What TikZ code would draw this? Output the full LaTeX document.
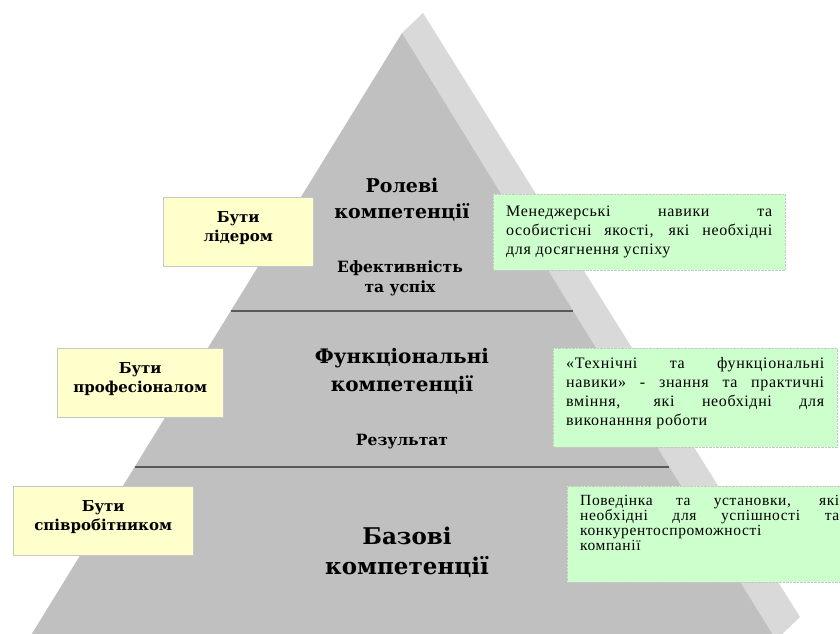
\documentclass[tikz,border=0pt]{standalone}
\usepackage{fontspec}
\setmainfont{Liberation Serif}
\newfontfamily\notefont[LetterSpace=4]{Liberation Serif}
\newfontfamily\labelfont{DejaVu Serif}
\usetikzlibrary{positioning}
\definecolor{pyrfront}{HTML}{C0C0C0}
\definecolor{pyrside}{HTML}{D9D9D9}
\definecolor{roleyellow}{HTML}{FFFFCC}
\definecolor{notegreen}{HTML}{CCFFCC}

\begin{document}
\begin{tikzpicture}[x=1pt,y=-1pt,
  rolebox/.style={draw=black!22,fill=roleyellow,anchor=north west,align=center,
    font=\labelfont\bfseries\fontsize{15}{19}\selectfont,text depth=10pt,inner sep=0pt},
  notebox/.style={draw=black!22,densely dotted,fill=notegreen,anchor=north west,align=justify,
    font=\notefont\fontsize{16}{19}\selectfont,inner xsep=13pt,inner ysep=4pt},
  title/.style={align=center,font=\labelfont\bfseries\fontsize{19}{26}\selectfont},
  subtitle/.style={align=center,font=\labelfont\bfseries\fontsize{15.5}{20}\selectfont},
  divider/.style={line width=1.8pt,black!65}]
  \clip (0,0) rectangle (840,634);
  % pyramid with its lit side
  \fill[pyrside] (402,33) -- (423,13) -- (800,617) -- (776,640) -- cycle;
  \fill[pyrfront] (402,33) -- (776,640) -- (28,640) -- cycle;
  \draw[divider] (231,311) -- (573,311);
  \draw[divider] (135,467) -- (669,467);
  % levels
  \node[title] (role) at (402,200) {Ролеві\\компетенції};
  \node[subtitle] (roleres) at (400,278) {Ефективність\\та успіх};
  \node[title,font=\labelfont\bfseries\fontsize{20}{28}\selectfont] (func) at (402,371) {Функціональні\\компетенції};
  \node[subtitle] (funcres) at (402,442) {Результат};
  \node[title,font=\labelfont\bfseries\fontsize{23}{30}\selectfont] (base) at (407,552) {Базові\\компетенції};
  % who you are
  \node[rolebox,minimum width=150pt,minimum height=69pt] (lead) at (163,197) {Бути\\лідером};
  \node[rolebox,minimum width=166pt,minimum height=69pt] (pro) at (57,348) {Бути\\професіоналом};
  \node[rolebox,minimum width=180pt,minimum height=69pt] (emp) at (13,486) {Бути\\співробітником};
  % what it takes
  \node[notebox,text width=266pt,minimum height=76pt] (noterole) at (493,194)
    {Менеджерські навики та\linebreak особистісні якості, які необхідні\linebreak для досягнення успіху};
  \node[notebox,text width=258pt,minimum height=99pt,text depth=69pt] (notefunc) at (553,348)
    {«Технічні та функціональні\linebreak навики» - знання та практичні\linebreak вміння, які необхідні для\linebreak виконанння роботи};
  \node[notebox,text width=259pt,minimum height=96pt,font=\notefont\fontsize{15.5}{15}\selectfont,text depth=67pt] (notebase) at (567,486)
    {Поведінка та установки, які\linebreak необхідні для успішності та\linebreak конкурентоспроможності\\компанії};
\end{tikzpicture}
\end{document}
